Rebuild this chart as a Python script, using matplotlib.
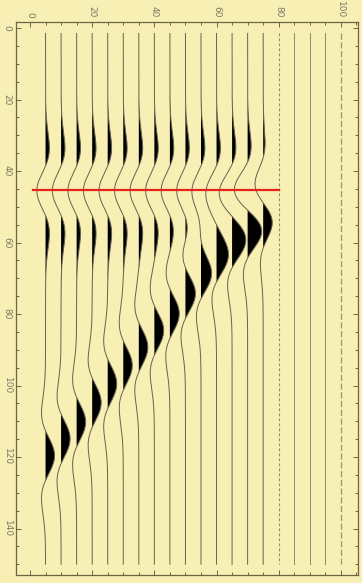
import numpy as np
import matplotlib
import matplotlib.pyplot as plt
from matplotlib.ticker import MultipleLocator

matplotlib.pyplot.switch_backend('Agg')

BG_COLOR = '#f8efb4'
SPINE_COLOR = '#6e6444'
TRACE_COLOR = '#66624f'
LABEL_COLOR = '#7a7868'

# trace positions (x axis) and the picked time of the flat event
OFFSETS = [5, 10, 15, 20, 25, 30, 35, 40, 45, 50, 55, 60, 65, 70, 75]
EMPTY_OFFSETS = [80, 85, 90, 95, 100]
PICK_TIME = 45.2
PICK_START = 1.0
PICK_END = 80.0

# flat event: reversed polarity, same time on every trace
FLAT_TIME = 45.5
FLAT_AMPS = [2.8, 2.8, 2.8, 2.8, 2.8, 2.8, 2.8, 2.8, 2.8, 2.8, 2.8, 2.8, 2.8, 2.8, 2.0]

# dipping event
DIP_TIMES = [119.6, 114.9, 110.2, 104.8, 99.5, 94.4, 89.3, 84.6, 79.9, 74.3, 68.8, 64.0, 59.8, 56.6, 53.0]
DIP_AMPS = [2.9, 2.9, 2.9, 2.9, 2.9, 2.9, 2.9, 3.0, 3.0, 3.2, 3.3, 3.3, 3.3, 3.3, 2.5]

T_START = 1.5
T_END = 150.0
SHARPNESS = 0.102  # pi * f of the wavelet


def ricker(t, t0):
    u = (SHARPNESS * (t - t0)) ** 2
    return (1 - 2 * u) * np.exp(-u)


t = np.linspace(T_START, T_END, 2000)

fig = plt.figure(figsize=(3.62, 5.83), dpi=100, facecolor=BG_COLOR)
ax = fig.add_axes([16 / 362, 1 - 575 / 583, 342 / 362, 553 / 583])
ax.set_facecolor(BG_COLOR)

for i, x0 in enumerate(OFFSETS):
    trace = -FLAT_AMPS[i] * ricker(t, FLAT_TIME) + DIP_AMPS[i] * ricker(t, DIP_TIMES[i])
    ax.fill_betweenx(t, x0, x0 + trace, where=trace > 0, interpolate=True,
                     color='black', linewidth=0)
    ax.plot(x0 + trace, t, color=TRACE_COLOR, lw=0.7)

# empty traces on the right
for x0 in EMPTY_OFFSETS:
    if x0 == 80:
        ax.plot([x0, x0], [T_START, T_END], color='#8f8a70', lw=0.8, dashes=(2.5, 2))
    elif x0 == 100:
        ax.plot([x0, x0], [T_START, T_END], color='#9a9478', lw=0.9, dashes=(5, 2))
    else:
        ax.plot([x0, x0], [T_START, T_END], color='#8f8a70', lw=0.7)

ax.plot([PICK_START, PICK_END], [PICK_TIME, PICK_TIME], color='#e5231b', lw=1.6)

ax.set_xlim(-4.5, 105.5)
ax.set_ylim(153, -1.7)

ax.xaxis.set_major_locator(MultipleLocator(20))
ax.xaxis.set_minor_locator(MultipleLocator(5))
ax.yaxis.set_major_locator(MultipleLocator(20))
ax.yaxis.set_minor_locator(MultipleLocator(5))
ax.tick_params(which='both', direction='in', top=True, bottom=True, left=True, right=True,
               labeltop=True, labelbottom=False, color=SPINE_COLOR, width=0.7)
ax.tick_params(which='major', length=3.5, pad=3, labelsize=6.5, labelcolor=LABEL_COLOR)
ax.tick_params(which='minor', length=2.2)
for lab in ax.get_xticklabels() + ax.get_yticklabels():
    lab.set_rotation(270)
for lab in ax.get_xticklabels():
    lab.set_va('bottom')
    lab.set_ha('center')
for lab in ax.get_yticklabels():
    lab.set_va('center')
    lab.set_ha('right')
for s in ax.spines.values():
    s.set_color(SPINE_COLOR)
    s.set_linewidth(0.9)

plt.savefig('out.png', dpi=100, facecolor=BG_COLOR)
